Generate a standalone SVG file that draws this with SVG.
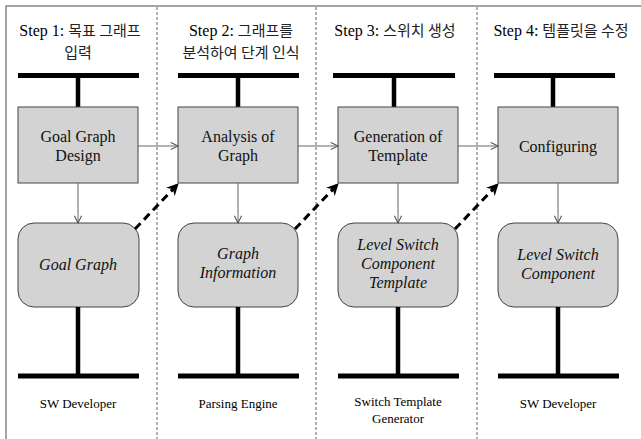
<svg xmlns="http://www.w3.org/2000/svg" width="641" height="439" viewBox="0 0 641 439">
  <defs>
    <marker id="open" viewBox="0 0 10 10" refX="9" refY="5" markerWidth="9" markerHeight="9" markerUnits="userSpaceOnUse" orient="auto">
      <path d="M1,1 L9,5 L1,9" fill="none" stroke="#555" stroke-width="1.2"/>
    </marker>
    <marker id="solid" viewBox="0 0 10 10" refX="8" refY="5" markerWidth="12" markerHeight="12" markerUnits="userSpaceOnUse" orient="auto">
      <path d="M0,0 L10,5 L0,10 L3,5 Z" fill="#000"/>
    </marker>
    <style>
      .frame { fill: none; stroke: #888; stroke-width: 1.5; }
      .lane { stroke: #666; stroke-width: 1; stroke-dasharray: 3 2; }
      .bar { stroke: #000; stroke-width: 5; fill: none; }
      .stem { stroke: #000; stroke-width: 4.5; fill: none; }
      .box { fill: #d3d3d3; stroke: #444; stroke-width: 1; }
      .flow { stroke: #666; stroke-width: 1; fill: none; marker-end: url(#open); }
      .dep { stroke: #000; stroke-width: 3; stroke-dasharray: 8 5; fill: none; marker-end: url(#solid); }
      text { font-family: "Liberation Serif", "Times New Roman", serif; }
      .head { font-size: 16px; fill: #000; text-anchor: middle; }
      .ko { font-family: "Noto Sans CJK KR", sans-serif; font-size: 15px; fill: #222; }
      .lbl { font-size: 16px; fill: #111; text-anchor: middle; }
      .it { font-style: italic; }
      .role { font-size: 13px; fill: #000; text-anchor: middle; }
    </style>
  </defs>

  <!-- outer frame (left and top edges) and lane separators -->
  <path class="frame" d="M6,439 V6 H641"/>
  <line class="lane" x1="157" y1="7" x2="157" y2="439"/>
  <line class="lane" x1="316" y1="7" x2="316" y2="439"/>
  <line class="lane" x1="477" y1="7" x2="477" y2="439"/>

  <!-- step 1 -->
  <g id="step1">
    <text class="head" x="80" y="35.5">Step 1: <tspan class="ko">목표 그래프</tspan><tspan class="ko" x="78" dy="22">입력</tspan></text>
    <line class="bar" x1="18" y1="75.5" x2="139" y2="75.5"/>
    <line class="stem" x1="78" y1="75" x2="78" y2="107"/>
    <rect class="box" x="18" y="107" width="120" height="76"/>
    <text class="lbl" x="78" y="142">Goal Graph<tspan x="78" dy="19">Design</tspan></text>
    <rect class="box" x="18" y="223" width="121" height="84" rx="16"/>
    <text class="lbl it" x="78" y="270">Goal Graph</text>
    <line class="stem" x1="78" y1="307" x2="78" y2="376"/>
    <line class="bar" x1="18" y1="376" x2="139" y2="376"/>
    <text class="role" x="78" y="408">SW Developer</text>
  </g>

  <!-- step 2 -->
  <g id="step2">
    <text class="head" x="241" y="35.5">Step 2: <tspan class="ko">그래프를</tspan><tspan class="ko" x="241" dy="22">분석하여 단계 인식</tspan></text>
    <line class="bar" x1="178" y1="75.5" x2="299" y2="75.5"/>
    <line class="stem" x1="238" y1="75" x2="238" y2="107"/>
    <rect class="box" x="178" y="107" width="120" height="76"/>
    <text class="lbl" x="238" y="142">Analysis of<tspan x="238" dy="19">Graph</tspan></text>
    <rect class="box" x="178" y="223" width="120" height="84" rx="16"/>
    <text class="lbl it" x="238" y="259">Graph<tspan x="238" dy="19">Information</tspan></text>
    <line class="stem" x1="238" y1="307" x2="238" y2="376"/>
    <line class="bar" x1="178" y1="376" x2="299" y2="376"/>
    <text class="role" x="238" y="408">Parsing Engine</text>
  </g>

  <!-- step 3 -->
  <g id="step3">
    <text class="head" x="395" y="36">Step 3: <tspan class="ko">스위치 생성</tspan></text>
    <line class="bar" x1="333" y1="75.5" x2="455" y2="75.5"/>
    <line class="stem" x1="394" y1="75" x2="394" y2="107"/>
    <rect class="box" x="338" y="107" width="120" height="76"/>
    <text class="lbl" x="398" y="142">Generation of<tspan x="398" dy="19">Template</tspan></text>
    <rect class="box" x="338" y="223" width="120" height="84" rx="16"/>
    <text class="lbl it" x="398" y="250">Level Switch<tspan x="398" dy="19">Component</tspan><tspan x="398" dy="19">Template</tspan></text>
    <line class="stem" x1="398" y1="307" x2="398" y2="376"/>
    <line class="bar" x1="338" y1="376" x2="459" y2="376"/>
    <text class="role" x="398" y="406">Switch Template<tspan x="398" dy="17">Generator</tspan></text>
  </g>

  <!-- step 4 -->
  <g id="step4">
    <text class="head" x="561" y="36">Step 4: <tspan class="ko">템플릿을 수정</tspan></text>
    <line class="bar" x1="494" y1="75.5" x2="615" y2="75.5"/>
    <line class="stem" x1="553" y1="75" x2="553" y2="107"/>
    <rect class="box" x="498" y="107" width="120" height="76"/>
    <text class="lbl" x="558" y="152">Configuring</text>
    <rect class="box" x="498" y="223" width="120" height="84" rx="16"/>
    <text class="lbl it" x="558" y="260">Level Switch<tspan x="558" dy="19">Component</tspan></text>
    <line class="stem" x1="558" y1="307" x2="558" y2="376"/>
    <line class="bar" x1="498" y1="376" x2="619" y2="376"/>
    <text class="role" x="558" y="408">SW Developer</text>
  </g>

  <!-- connectors -->
  <g id="connectors">
    <line class="flow" x1="138" y1="146" x2="178" y2="146"/>
    <line class="flow" x1="298" y1="146" x2="338" y2="146"/>
    <line class="flow" x1="458" y1="146" x2="498" y2="146"/>
    <line class="flow" x1="78" y1="183" x2="78" y2="223"/>
    <line class="flow" x1="238" y1="183" x2="238" y2="223"/>
    <line class="flow" x1="398" y1="183" x2="398" y2="223"/>
    <line class="flow" x1="558" y1="183" x2="558" y2="223"/>
    <line class="dep" x1="135" y1="229" x2="177" y2="185"/>
    <line class="dep" x1="295" y1="229" x2="337" y2="185"/>
    <line class="dep" x1="455" y1="229" x2="497" y2="185"/>
  </g>
</svg>
